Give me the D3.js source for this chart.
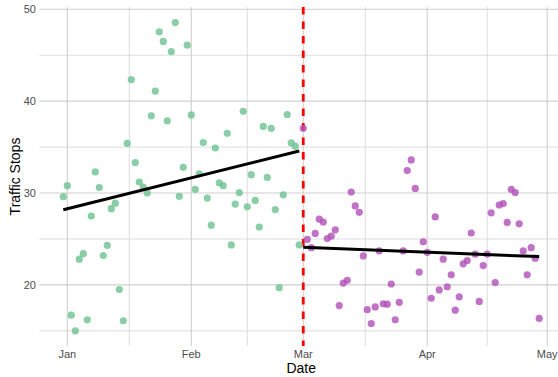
<!DOCTYPE html>
<html>
<head>
<meta charset="utf-8">
<script src="https://cdn.jsdelivr.net/npm/d3@7"></script>
<style>
  body { margin: 0; background: #fff; }
  text { font-family: "Liberation Sans", Arial, sans-serif; }
</style>
</head>
<body>
<script>
// Daily traffic stops, Dec 31 to Apr 29
const startDate = new Date(2022, 11, 31)
const endDate = new Date(2023, 3, 30)
const cutDate = new Date(2023, 2, 1)

const stops = [
    29.6, 30.8, 16.7, 15.0, 22.8, 23.4, 16.2, 27.5, 32.3, 30.6,
    23.2, 24.3, 28.3, 28.9, 19.5, 16.1, 35.4, 42.35, 33.3, 31.2,
    30.65, 30.0, 38.4, 41.1, 47.55, 46.5, 37.85, 45.4, 48.55, 29.65,
    32.8, 46.1, 38.5, 30.4, 32.1, 35.5, 29.45, 26.5, 34.9, 31.1,
    30.8, 36.5, 24.35, 28.8, 30.05, 38.9, 28.5, 32.0, 29.2, 26.3,
    37.25, 31.7, 37.05, 28.2, 19.7, 29.8, 38.55, 35.45, 35.1, 24.35,
    37.05, 24.95, 24.05, 25.6, 27.15, 26.85, 25.05, 25.3, 26.0, 17.75,
    20.2, 20.5, 30.1, 28.6, 27.9, 23.15, 17.3, 15.8, 17.6, 23.7,
    17.95, 17.9, 20.1, 16.2, 18.1, 23.7, 32.45, 33.6, 30.5, 21.4,
    24.7, 23.55, 18.55, 27.4, 19.45, 22.8, 19.8, 21.1, 17.25, 18.7,
    22.3, 22.65, 25.65, 23.35, 18.2, 22.1, 23.35, 27.85, 20.25, 28.7,
    28.85, 26.8, 30.4, 30.05, 26.65, 23.7, 21.1, 24.05, 22.9, 16.35
]

const yMajor = [20, 30, 40, 50]
const yMinor = [15, 25, 35, 45]
const monthTicks = [new Date(2023, 0, 1), new Date(2023, 1, 1), new Date(2023, 2, 1), new Date(2023, 3, 1), new Date(2023, 4, 1)]
const monthLabels = ['Jan', 'Feb', 'Mar', 'Apr', 'May']

const dates = d3.timeDay.range(startDate, endDate)
const data = dates.map((d, i) => ({ date: d, value: stops[i], after: d >= cutDate }))

const W = 558, H = 377
const panel = { left: 39.5, right: 563, top: 7, bottom: 346 }

const svg = d3.select('body').append('svg')
    .attr('width', W)
    .attr('height', H)

// 5% expansion on the date range, like ggplot
const span = endDate - startDate - 864e5
const xScale = d3.scaleTime()
    .domain([new Date(+startDate - span * 0.05), new Date(+startDate + span * 1.05)])
    .range([panel.left, panel.right])

const yScale = d3.scaleLinear()
    .domain([13.35, 50.25])
    .range([panel.bottom, panel.top])

// Grid lines
const grid = svg.append('g')
const xMinor = d3.pairs(monthTicks).map(([a, b]) => new Date((+a + +b) / 2))

grid.selectAll('.ymin').data(yMinor).join('line')
    .attr('x1', panel.left).attr('x2', W)
    .attr('y1', d => yScale(d)).attr('y2', d => yScale(d))
    .style('stroke', '#d4d4d4').style('stroke-width', 0.8)
grid.selectAll('.ymaj').data(yMajor).join('line')
    .attr('x1', panel.left).attr('x2', W)
    .attr('y1', d => yScale(d)).attr('y2', d => yScale(d))
    .style('stroke', '#cfcfcf').style('stroke-width', 1.1)
grid.selectAll('.xmin').data(xMinor).join('line')
    .attr('x1', d => xScale(d)).attr('x2', d => xScale(d))
    .attr('y1', panel.top).attr('y2', panel.bottom)
    .style('stroke', '#d4d4d4').style('stroke-width', 0.8)
grid.selectAll('.xmaj').data(monthTicks).join('line')
    .attr('x1', d => xScale(d)).attr('x2', d => xScale(d))
    .attr('y1', panel.top).attr('y2', panel.bottom)
    .style('stroke', '#cfcfcf').style('stroke-width', 1.1)

// Tick labels
svg.selectAll('.ylab').data(yMajor).join('text')
    .attr('x', 36)
    .attr('y', d => yScale(d))
    .attr('dy', '0.35em')
    .attr('text-anchor', 'end')
    .style('font-size', '11px')
    .style('fill', '#4d4d4d')
    .text(d => d)

svg.selectAll('.xlab').data(monthTicks).join('text')
    .attr('x', d => xScale(d))
    .attr('y', 358)
    .attr('text-anchor', 'middle')
    .style('font-size', '11px')
    .style('fill', '#4d4d4d')
    .text((d, i) => monthLabels[i])

// Axis titles
svg.append('text')
    .attr('x', (panel.left + panel.right) / 2)
    .attr('y', 373)
    .attr('text-anchor', 'middle')
    .style('font-size', '14px')
    .text('Date')

svg.append('text')
    .attr('transform', `translate(19.5, ${(panel.top + panel.bottom) / 2}) rotate(-90)`)
    .attr('text-anchor', 'middle')
    .style('font-size', '14px')
    .text('Traffic Stops')

// Treatment date (under the points)
svg.append('line')
    .attr('x1', xScale(cutDate)).attr('x2', xScale(cutDate))
    .attr('y1', panel.top).attr('y2', panel.bottom)
    .style('stroke', 'red')
    .style('stroke-width', 2.8)
    .style('stroke-dasharray', '7.5,7')

// Points
svg.append('g').selectAll('circle').data(data).join('circle')
    .attr('cx', d => xScale(d.date))
    .attr('cy', d => yScale(d.value))
    .attr('r', 3.6)
    .style('fill', d => d.after ? '#b04fb8' : '#6cc291')
    .style('fill-opacity', 0.8)

// Linear fit per period
function fit(points) {
    const xs = points.map(d => +d.date), ys = points.map(d => d.value)
    const mx = d3.mean(xs), my = d3.mean(ys)
    const slope = d3.sum(xs, (x, i) => (x - mx) * (ys[i] - my)) / d3.sum(xs, x => (x - mx) ** 2)
    const ends = d3.extent(points, d => d.date)
    return ends.map(d => ({ date: d, value: my + slope * (+d - mx) }))
}

const line = d3.line()
    .x(d => xScale(d.date))
    .y(d => yScale(d.value))

const groups = [data.filter(d => !d.after), data.filter(d => d.after)]
groups.forEach(g => {
    svg.append('path')
        .datum(fit(g))
        .style('stroke', 'black')
        .style('stroke-width', 3)
        .style('fill', 'none')
        .attr('d', line)
})
</script>
</body>
</html>
